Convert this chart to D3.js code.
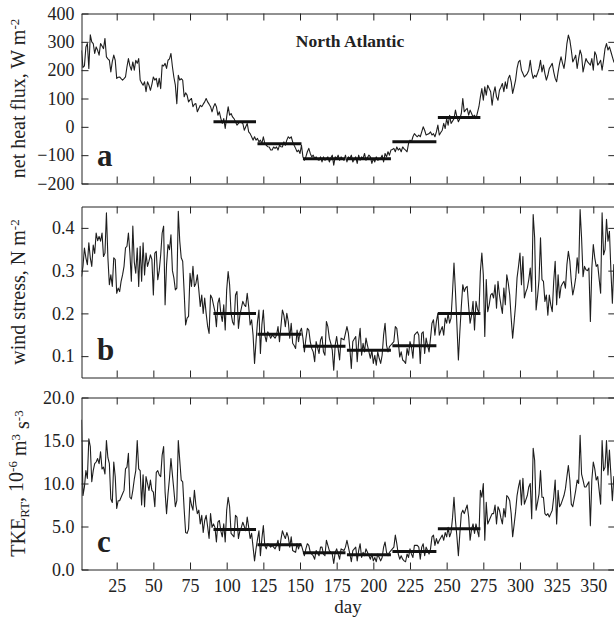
<!DOCTYPE html>
<html>
<head>
<meta charset="utf-8">
<script src="https://cdn.jsdelivr.net/npm/d3@7"></script>
<style>
  html, body { margin: 0; padding: 0; background: #fff; }
  svg text { font-family: "Liberation Serif", "Times New Roman", serif; fill: #222; }
</style>
</head>
<body>
<svg id="chart" width="614" height="626"></svg>
<script>
// Daily series, North Atlantic, day of year 1..365
const days = d3.range(1, 366);

const heatFlux = [
  270, 210, 215, 282, 294, 206, 325, 300, 294, 259,
  282, 270, 253, 294, 285, 276, 312, 247, 240, 235,
  194, 230, 253, 235, 171, 175, 176, 170, 165, 170,
  176, 212, 241, 215, 200, 229, 200, 235, 224, 241,
  165, 155, 147, 159, 124, 159, 147, 129, 150, 176,
  165, 171, 141, 171, 135, 218, 215, 224, 206, 235,
  240, 259, 212, 175, 147, 82, 182, 165, 170, 165,
  106, 120, 112, 88, 95, 100, 71, 80, 82, 53,
  65, 76, 71, 80, 88, 100, 88, 80, 71, 53,
  70, 82, 71, 41, 53, 30, 12, 29, -6, 35,
  71, 41, 47, 35, 29, 18, 6, 12, 18, 15,
  12, -12, 0, 12, -18, -24, -35, -47, -35, -47,
  -41, -53, -47, -59, -35, -59, -65, -70, -71, -82,
  -82, -71, -76, -71, -82, -65, -70, -71, -53, -65,
  -47, -35, -41, -35, -53, -65, -76, -88, -82, -94,
  -65, -106, -118, -106, -88, -76, -94, -106, -100, -112,
  -106, -115, -118, -106, -124, -106, -118, -112, -106, -124,
  -110, -100, -135, -106, -112, -100, -118, -106, -112, -118,
  -100, -124, -106, -112, -100, -124, -115, -106, -129, -100,
  -118, -106, -112, -94, -118, -108, -100, -106, -129, -112,
  -124, -106, -118, -115, -112, -100, -124, -94, -106, -88,
  -100, -82, -80, -76, -88, -71, -82, -76, -88, -71,
  -78, -82, -88, -59, -47, -53, -35, -24, -30, -35,
  -29, -35, -18, 0, -12, -29, -26, -24, -18, -29,
  -24, -35, -18, 6, -29, -20, -12, 12, -6, 29,
  6, 41, 12, 20, 29, 59, 35, 18, 29, 47,
  100, 53, 60, 65, 41, 59, 47, 35, 41, 29,
  50, 71, 106, 135, 94, 141, 112, 147, 135, 124,
  76, 118, 141, 106, 94, 129, 140, 153, 124, 159,
  135, 171, 182, 159, 118, 140, 165, 206, 229, 235,
  200, 188, 176, 182, 188, 200, 235, 194, 171, 182,
  176, 190, 206, 235, 194, 218, 188, 165, 182, 206,
  215, 224, 194, 171, 159, 194, 224, 247, 225, 206,
  241, 294, 324, 306, 271, 229, 240, 253, 206, 241,
  271, 253, 194, 218, 241, 230, 224, 218, 241, 200,
  265, 253, 218, 225, 235, 200, 235, 276, 294, 271,
  282, 265, 247, 229, 225
];

const windStress = [
  .286, .31, .353, .33, .314, .365, .33, .31, .36, .34,
  .388, .37, .38, .369, .388, .333, .341, .435, .33, .267,
  .29, .263, .33, .326, .247, .259, .251, .275, .29, .31,
  .353, .357, .388, .341, .275, .404, .32, .294, .353, .263,
  .357, .275, .365, .29, .341, .31, .322, .337, .326, .243,
  .341, .345, .279, .30, .337, .388, .404, .22, .314, .361,
  .349, .384, .30, .283, .255, .259, .439, .369, .33, .322,
  .25, .173, .189, .193, .294, .263, .31, .263, .27, .29,
  .255, .216, .243, .20, .236, .20, .17, .153, .243, .236,
  .22, .204, .169, .224, .236, .20, .181, .22, .161, .255,
  .298, .267, .20, .18, .173, .243, .251, .165, .196, .212,
  .228, .22, .216, .247, .216, .173, .185, .149, .083, .134,
  .18, .208, .106, .173, .208, .149, .134, .157, .15, .142,
  .149, .146, .142, .149, .169, .134, .17, .208, .196, .169,
  .2, .181, .142, .177, .13, .125, .118, .161, .134, .157,
  .165, .142, .11, .14, .165, .161, .134, .118, .11, .087,
  .134, .12, .106, .138, .146, .11, .102, .181, .169, .142,
  .13, .114, .067, .126, .146, .118, .091, .142, .14, .138,
  .153, .169, .153, .118, .071, .134, .14, .146, .087, .134,
  .165, .102, .13, .11, .142, .125, .11, .095, .114, .083,
  .102, .079, .11, .095, .083, .102, .149, .177, .126, .11,
  .122, .126, .13, .134, .169, .165, .134, .098, .11, .091,
  .088, .083, .118, .102, .134, .122, .095, .149, .153, .157,
  .149, .083, .153, .157, .106, .142, .125, .11, .142, .177,
  .185, .149, .181, .2, .149, .16, .169, .149, .189, .177,
  .2, .177, .189, .25, .318, .251, .173, .091, .157, .216,
  .267, .251, .26, .263, .216, .177, .196, .228, .161, .228,
  .21, .2, .298, .341, .29, .146, .279, .204, .22, .243,
  .247, .236, .267, .212, .275, .243, .22, .2, .259, .22,
  .29, .271, .243, .189, .142, .18, .22, .283, .31, .341,
  .267, .333, .236, .25, .259, .279, .306, .251, .431, .377,
  .208, .24, .279, .377, .279, .275, .228, .243, .196, .243,
  .22, .204, .275, .322, .22, .29, .236, .263, .27, .275,
  .259, .314, .345, .322, .275, .243, .26, .283, .33, .294,
  .443, .377, .286, .31, .302, .30, .306, .181, .306, .361,
  .33, .31, .314, .28, .247, .435, .337, .349, .42, .369,
  .392, .30, .224, .314, .30
];

const tke = [
  17.4, 8.6, 9.6, 11.5, 10.6, 15.2, 14.3, 10.2, 11.5, 12.3,
  12.5, 12.9, 12.3, 13.7, 11.7, 11.9, 11.1, 15.0, 13.0, 12.3,
  8.2, 7.8, 12.5, 10.8, 7.1, 8.0, 8.0, 8.4, 8.8, 9.2,
  11.7, 11.9, 13.5, 8.4, 8.2, 9.2, 10.5, 11.5, 15.0, 11.7,
  11.5, 7.5, 11.0, 7.3, 10.8, 10.0, 9.2, 10.4, 9.2, 9.0,
  7.3, 11.3, 11.5, 11.0, 10.8, 13.3, 14.3, 9.0, 6.5, 8.8,
  10.6, 12.9, 11.0, 9.2, 7.3, 8.0, 15.0, 12.7, 10.4, 10.2,
  7.0, 4.3, 4.2, 4.7, 8.4, 7.5, 6.9, 9.2, 7.5, 6.5,
  6.9, 5.3, 6.3, 4.3, 5.7, 6.3, 5.0, 3.6, 6.5, 4.9,
  5.3, 4.9, 3.2, 5.5, 5.7, 4.5, 3.8, 5.3, 3.2, 6.9,
  8.4, 7.3, 4.2, 4.0, 3.8, 6.3, 6.1, 3.6, 4.5, 4.9,
  5.5, 5.0, 4.5, 6.1, 4.9, 3.6, 4.2, 2.6, 1.0, 2.4,
  3.5, 4.5, 1.6, 3.6, 5.1, 2.8, 2.4, 3.0, 2.8, 2.6,
  2.8, 2.6, 2.4, 2.8, 3.4, 2.2, 3.5, 4.5, 4.0, 3.6,
  4.3, 3.8, 2.6, 3.8, 2.2, 2.1, 2.0, 3.0, 2.4, 3.0,
  2.8, 2.2, 1.6, 2.4, 3.0, 2.8, 2.0, 1.8, 1.6, 1.2,
  2.2, 1.9, 1.6, 2.6, 2.6, 1.8, 1.6, 3.4, 2.8, 2.2,
  2.0, 1.8, 0.7, 2.0, 2.4, 1.8, 1.2, 2.4, 2.3, 2.2,
  2.6, 3.4, 2.6, 1.8, 0.9, 2.2, 2.4, 2.6, 1.0, 2.2,
  3.0, 1.4, 2.0, 1.6, 2.4, 2.0, 1.6, 1.2, 1.8, 1.0,
  1.4, 0.9, 1.8, 1.4, 1.0, 1.4, 2.6, 3.2, 2.0, 1.6,
  2.0, 2.2, 2.4, 2.6, 4.0, 3.0, 1.8, 1.2, 1.6, 1.2,
  1.0, 0.9, 1.8, 1.4, 2.4, 1.8, 1.4, 2.8, 2.8, 2.8,
  2.6, 1.2, 2.6, 3.0, 1.6, 2.6, 2.2, 1.8, 2.4, 3.8,
  4.0, 2.8, 3.6, 3.0, 3.4, 3.7, 4.0, 3.4, 4.3, 3.8,
  4.9, 3.8, 4.3, 6.0, 8.4, 5.7, 3.8, 1.6, 4.2, 6.5,
  6.9, 6.5, 7.0, 7.5, 6.1, 3.4, 4.7, 5.3, 4.2, 5.3,
  4.5, 3.8, 9.2, 8.4, 10.0, 3.4, 7.8, 5.3, 5.7, 6.1,
  6.5, 6.5, 7.5, 5.3, 7.3, 6.9, 6.0, 5.3, 7.1, 6.1,
  8.6, 8.4, 8.0, 6.5, 3.8, 5.2, 6.7, 8.6, 9.6, 10.4,
  7.5, 10.6, 7.6, 8.1, 8.6, 9.6, 10.0, 5.9, 14.1, 12.7,
  6.9, 7.8, 8.8, 11.5, 8.4, 8.4, 6.5, 6.3, 6.5, 6.1,
  6.5, 6.9, 8.4, 10.4, 5.3, 9.2, 7.3, 7.6, 8.1, 8.6,
  9.4, 10.8, 12.1, 10.4, 7.6, 7.3, 8.2, 9.2, 10.4, 10.0,
  15.6, 11.1, 10.4, 9.6, 9.6, 9.9, 10.2, 5.1, 10.4, 12.5,
  11.7, 10.4, 10.8, 9.2, 7.6, 15.0, 11.5, 11.9, 15.0, 11.0,
  13.9, 11.0, 8.0, 10.8, 10.0
];

// Monthly means, April to September
const months = ["Apr", "May", "Jun", "Jul", "Aug", "Sep"];
const monthFirstDay = [91, 121, 152, 182, 213, 244];
const monthLastDay  = [120, 151, 181, 212, 243, 273];
const heatFluxMonthly   = [18, -60, -113, -113, -53, 33];
const windStressMonthly = [0.200, 0.151, 0.123, 0.114, 0.124, 0.200];
const tkeMonthly        = [4.66, 2.87, 1.94, 1.71, 2.10, 4.74];

// Axis ticks
const dayTicks   = [25, 50, 75, 100, 125, 150, 175, 200, 225, 250, 275, 300, 325, 350];
const heatTicks  = [-200, -100, 0, 100, 200, 300, 400];
const windTicks  = [0.1, 0.2, 0.3, 0.4];
const tkeTicks   = [0, 5, 10, 15, 20];

const svg = d3.select("#chart");
const left = 81.5, right = 615.3;
const x = d3.scaleLinear().domain([1, 365]).range([left, right]);
const TICK = 7;

const panels = [
  { id: "a", values: heatFlux, monthly: heatFluxMonthly, domain: [-200, 400], top: 13.5, bottom: 183.5,
    ticks: heatTicks, fmt: d3.format("d"), showX: false },
  { id: "b", values: windStress, monthly: windStressMonthly, domain: [0.05, 0.45], top: 206.5, bottom: 377.5,
    ticks: windTicks, fmt: d3.format(".1f"), showX: false },
  { id: "c", values: tke, monthly: tkeMonthly, domain: [0, 20], top: 397.5, bottom: 569.5,
    ticks: tkeTicks, fmt: d3.format(".1f"), showX: true }
];

panels.forEach(p => {
  const y = d3.scaleLinear().domain(p.domain).range([p.bottom, p.top]);
  const g = svg.append("g").attr("class", "panel-" + p.id);

  const clipId = "clip-" + p.id;
  svg.append("clipPath").attr("id", clipId)
    .append("rect").attr("x", left).attr("y", p.top)
    .attr("width", right - left).attr("height", p.bottom - p.top);

  // daily series
  const line = d3.line().x((d, i) => x(days[i])).y(d => y(d));
  g.append("path")
    .datum(p.values)
    .attr("clip-path", `url(#${clipId})`)
    .attr("fill", "none")
    .attr("stroke", "#1e1e1e")
    .attr("stroke-width", 1.1)
    .attr("stroke-linejoin", "round")
    .attr("d", line);

  // monthly mean bars
  g.append("g").selectAll("line")
    .data(p.monthly)
    .join("line")
    .attr("x1", (d, i) => x(monthFirstDay[i]))
    .attr("x2", (d, i) => x(monthLastDay[i]))
    .attr("y1", d => y(d))
    .attr("y2", d => y(d))
    .attr("stroke", "#111")
    .attr("stroke-width", 3);

  // axes: ticks pointing inward on all four sides
  const yLeft = d3.axisLeft(y).tickValues(p.ticks).tickFormat(p.fmt)
    .tickSizeInner(-TICK).tickSizeOuter(0).tickPadding(7);
  const gl = g.append("g").attr("transform", `translate(${left},0)`).call(yLeft);
  gl.selectAll("text").style("font-size", "18px");

  const yRight = d3.axisRight(y).tickValues(p.ticks).tickFormat("")
    .tickSizeInner(-TICK).tickSizeOuter(0);
  g.append("g").attr("transform", `translate(${right},0)`).call(yRight);

  const xTop = d3.axisTop(x).tickValues(dayTicks).tickFormat("")
    .tickSizeInner(-TICK).tickSizeOuter(0);
  g.append("g").attr("transform", `translate(0,${p.top})`).call(xTop);

  const xBottom = d3.axisBottom(x).tickValues(dayTicks)
    .tickFormat(p.showX ? d3.format("d") : "")
    .tickSizeInner(-TICK).tickSizeOuter(0).tickPadding(10);
  const gb = g.append("g").attr("transform", `translate(0,${p.bottom})`).call(xBottom);
  gb.selectAll("text").style("font-size", "18px");

  g.selectAll(".domain").attr("stroke", "#222");
  g.selectAll(".tick line").attr("stroke", "#222");
  g.selectAll(".tick text").attr("fill", "#222").attr("font-family", "Liberation Serif, serif");

  // panel letter
  g.append("text")
    .attr("x", 97).attr("y", p.bottom - 18)
    .style("font-size", "31px").style("font-weight", "bold")
    .text(p.id);
});

// title
svg.append("text")
  .attr("x", 350).attr("y", 47)
  .attr("text-anchor", "middle")
  .style("font-size", "17.5px").style("font-weight", "bold")
  .text("North Atlantic");

// y-axis titles (rotated)
function yTitle(cy, build) {
  const t = svg.append("text")
    .attr("transform", `translate(25,${cy}) rotate(-90)`)
    .attr("text-anchor", "middle")
    .style("font-size", "20px");
  build(t);
}
yTitle(98.5, t => {
  t.append("tspan").text("net heat flux, W m");
  t.append("tspan").attr("dy", "-0.45em").style("font-size", "13px").text("-2");
});
yTitle(292, t => {
  t.append("tspan").text("wind stress, N m");
  t.append("tspan").attr("dy", "-0.45em").style("font-size", "13px").text("-2");
});
yTitle(483.5, t => {
  t.append("tspan").text("TKE");
  t.append("tspan").attr("dy", "0.3em").style("font-size", "13px").text("RT");
  t.append("tspan").attr("dy", "-0.3em").text(", 10");
  t.append("tspan").attr("dy", "-0.45em").style("font-size", "13px").text("-6");
  t.append("tspan").attr("dy", "0.45em").text(" m");
  t.append("tspan").attr("dy", "-0.45em").style("font-size", "13px").text("3");
  t.append("tspan").attr("dy", "0.45em").text(" s");
  t.append("tspan").attr("dy", "-0.45em").style("font-size", "13px").text("-3");
});

// x-axis title
svg.append("text")
  .attr("x", 348).attr("y", 613)
  .attr("text-anchor", "middle")
  .style("font-size", "19px")
  .text("day");
</script>
</body>
</html>
